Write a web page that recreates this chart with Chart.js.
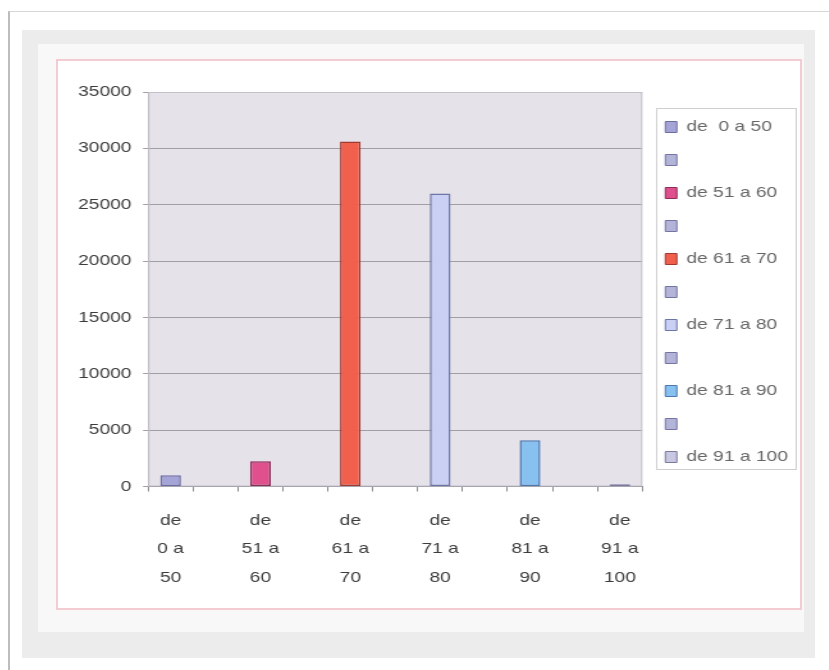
<!DOCTYPE html>
<html><head><meta charset="utf-8">
<script src="https://cdn.jsdelivr.net/npm/chart.js@4"></script>
<style>
html,body{margin:0;padding:0;background:#fff;width:829px;height:670px;overflow:hidden;}
#frame{position:absolute;left:8px;top:11px;width:900px;height:700px;border-left:2px solid #bdbdbd;border-top:1px solid #d6d6d6;}
#panel{position:absolute;left:22px;top:30px;width:793px;height:628px;background:#ececec;}
#inner{position:absolute;left:38px;top:44px;width:766px;height:588px;background:#f8f8f8;}
#pink{position:absolute;left:56px;top:59px;width:746px;height:551px;box-sizing:border-box;border:2px solid #f2cbd3;background:#fff;}
#wrap{position:absolute;left:57px;top:60px;width:581px;height:549px;transform:scaleX(1.28);transform-origin:0 0;}
</style></head>
<body>
<div id="frame"></div>
<div id="panel"></div>
<div id="inner"></div>
<div id="pink"></div>
<div id="wrap"><canvas id="c"></canvas></div>
<script>
// ---- data ----
const categories = ['de  0 a 50','','de 51 a 60','','de 61 a 70','','de 71 a 80','','de 81 a 90','','de 91 a 100'];
const values = [1000, null, 2250, null, 30600, null, 26000, null, 4100, null, 200];
const yTicks = [0, 5000, 10000, 15000, 20000, 25000, 30000, 35000];
const fillColors = ['#a4a4d6','#b4b4d8','#e0508c','#b4b4d8','#f0604c','#b4b4d8','#c9d0f4','#b4b4d8','#88c0f0','#b4b4d8','#c8c8e2'];
const edgeColors = ['#6c6ca4','#7474a4','#8c2c58','#7474a4','#a03a30','#7474a4','#6c74a8','#7474a4','#4a78b0','#7474a4','#7a7aa0'];

const FONT = {family: '"Liberation Sans", Arial, sans-serif', size: 15};
const TEXT = '#3c3c3c';

const framePlugin = {
  id: 'frame',
  beforeDraw(chart) {
    const {ctx, chartArea: a} = chart;
    ctx.save();
    ctx.fillStyle = '#e5e2ea';
    ctx.fillRect(a.left, a.top, a.width, a.height);
    ctx.restore();
  },
  beforeDatasetsDraw(chart) {
    const {ctx, chartArea: a} = chart;
    ctx.save();
    ctx.strokeStyle = '#c4c0ca';
    ctx.lineWidth = 1;
    ctx.strokeRect(a.left + 0.5, a.top + 0.5, a.width - 1, a.height - 1);
    ctx.restore();
  },
  afterDraw(chart) {
    const lg = chart.legend;
    if (!lg || !lg.legendHitBoxes || !lg.legendHitBoxes.length) return;
    const hb = lg.legendHitBoxes;
    const first = hb[0], last = hb[hb.length - 1];
    const ctx = chart.ctx;
    ctx.save();
    ctx.strokeStyle = '#cfcfcf';
    ctx.lineWidth = 1;
    const x0 = first.left - 7, y0 = first.top - 12;
    const x1 = lg.right - 4, y1 = last.top + last.height + 4;
    ctx.strokeRect(Math.round(x0) + 0.5, Math.round(y0) + 0.5, Math.round(x1 - x0), Math.round(y1 - y0));
    ctx.restore();
  }
};

new Chart(document.getElementById('c'), {
  type: 'bar',
  data: {
    labels: categories,
    datasets: [{
      data: values,
      backgroundColor: fillColors,
      borderColor: edgeColors,
      borderWidth: 1.5,
      borderSkipped: false,
      categoryPercentage: 1,
      barPercentage: 0.46
    }]
  },
  plugins: [framePlugin],
  options: {
    responsive: true,
    maintainAspectRatio: false,
    animation: false,
    layout: {padding: {top: 32, left: 7.5, right: 0, bottom: 2}},
    plugins: {
      tooltip: {enabled: false},
      legend: {
        position: 'right',
        align: 'start',
        onClick: null,
        title: {display: true, text: '', font: {size: 1, lineHeight: 1}, padding: {top: 4, bottom: 4.5}},
        labels: {
          font: FONT,
          color: TEXT,
          boxWidth: 9,
          boxHeight: 11,
          padding: 18,
          generateLabels: () => categories.map((c, i) => ({
            text: c,
            fillStyle: fillColors[i],
            strokeStyle: edgeColors[i],
            lineWidth: 1,
            hidden: false,
            index: i,
            datasetIndex: 0
          }))
        }
      }
    },
    scales: {
      x: {
        grid: {display: true, drawOnChartArea: false, drawTicks: true, tickLength: 5, color: '#8a8a90', offset: true},
        border: {display: true, color: '#8a8a90', width: 1},
        ticks: {
          autoSkip: false,
          maxRotation: 0,
          padding: 15,
          color: TEXT,
          font: Object.assign({}, FONT, {lineHeight: 1.9}),
          callback: function (v, i) {
            const c = categories[i];
            if (!c) return '';
            const p = c.trim().split(/\s+/);
            return [p[0], p[1] + ' ' + p[2], p[3]];
          }
        }
      },
      y: {
        min: 0,
        max: 35000,
        afterBuildTicks: s => { s.ticks = yTicks.map(v => ({value: v})); },
        grid: {color: '#a29ea8', lineWidth: 1, tickLength: 4, drawTicks: true},
        border: {display: true, color: '#b0acb6', width: 1},
        ticks: {
          padding: 9,
          color: TEXT,
          font: FONT,
          callback: v => String(v)
        }
      }
    }
  }
});
</script>
</body></html>
